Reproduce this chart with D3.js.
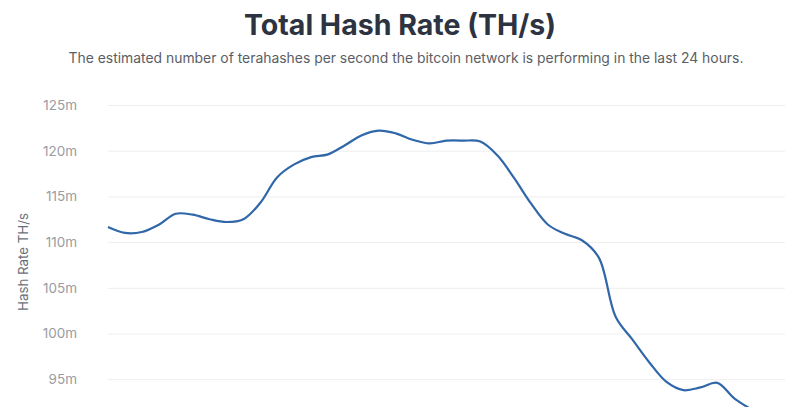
<!DOCTYPE html>
<html>
<head>
<meta charset="utf-8">
<script src="https://cdn.jsdelivr.net/npm/d3@7"></script>
<style>
  html, body { margin: 0; padding: 0; background: #fff; overflow: hidden; }
  svg { display: block; font-family: Inter, "Noto Sans", sans-serif; }
</style>
</head>
<body>
<svg id="chart" width="800" height="407"></svg>
<script>
// Data (millions of TH/s), evenly spaced samples over the period
const days = d3.range(0, 41);
const hashRate = [
  111.65, 111.0, 111.1, 111.9, 113.1, 113.0, 112.5, 112.2, 112.5, 114.3,
  117.1, 118.5, 119.3, 119.6, 120.6, 121.7, 122.2, 121.9, 121.2, 120.8,
  121.1, 121.1, 121.0, 119.5, 117.0, 114.2, 111.9, 110.9, 110.2, 108.3,
  101.8, 99.3, 96.8, 94.7, 93.8, 94.1, 94.6, 92.9, 91.7, 90.5, 89.5
];
const yTicks = [95, 100, 105, 110, 115, 120, 125];

const title = "Total Hash Rate (TH/s)";
const subtitle = "The estimated number of terahashes per second the bitcoin network is performing in the last 24 hours.";
const yTitle = "Hash Rate TH/s";

const svg = d3.select("#chart");
const margin = { left: 108, right: 15, top: 105 };
const plotW = 800 - margin.left - margin.right;

const x = d3.scaleLinear().domain([0, days.length - 1]).range([margin.left, margin.left + plotW]);
const pxPer5 = 45.7;
const y = d3.scaleLinear().domain([125, 85]).range([margin.top, margin.top + pxPer5 * 8]);

// Title
svg.append("text")
  .attr("x", 400).attr("y", 35)
  .attr("text-anchor", "middle")
  .attr("font-size", 28.5).attr("font-weight", 700)
  .attr("fill", "#2d3340")
  .text(title);

svg.append("text")
  .attr("x", 406).attr("y", 63)
  .attr("text-anchor", "middle")
  .attr("font-size", 13.9)
  .attr("fill", "#5a5e66")
  .text(subtitle);

// Grid + ticks
const yAxis = d3.axisLeft(y)
  .tickValues(yTicks)
  .tickSize(-plotW)
  .tickPadding(31)
  .tickFormat(d => d + "m");

const g = svg.append("g")
  .attr("transform", `translate(${margin.left},0)`)
  .call(yAxis);
g.select(".domain").remove();
g.selectAll(".tick line").attr("stroke", "#eeeeee").attr("stroke-width", 1);
g.selectAll(".tick text")
  .attr("fill", "#999ca3")
  .attr("font-size", 13.5)
  .attr("font-family", "Inter, 'Noto Sans', sans-serif");

// Y title
svg.append("text")
  .attr("transform", `translate(28,262) rotate(-90)`)
  .attr("text-anchor", "middle")
  .attr("font-size", 13.3)
  .attr("fill", "#6b6f78")
  .text(yTitle);

// Line
const line = d3.line()
  .x((d, i) => x(days[i]))
  .y(d => y(d))
  .curve(d3.curveCatmullRom.alpha(0.5));

svg.append("path")
  .datum(hashRate)
  .attr("fill", "none")
  .attr("stroke", "#3067a8")
  .attr("stroke-width", 2.2)
  .attr("d", line);
</script>
</body>
</html>
